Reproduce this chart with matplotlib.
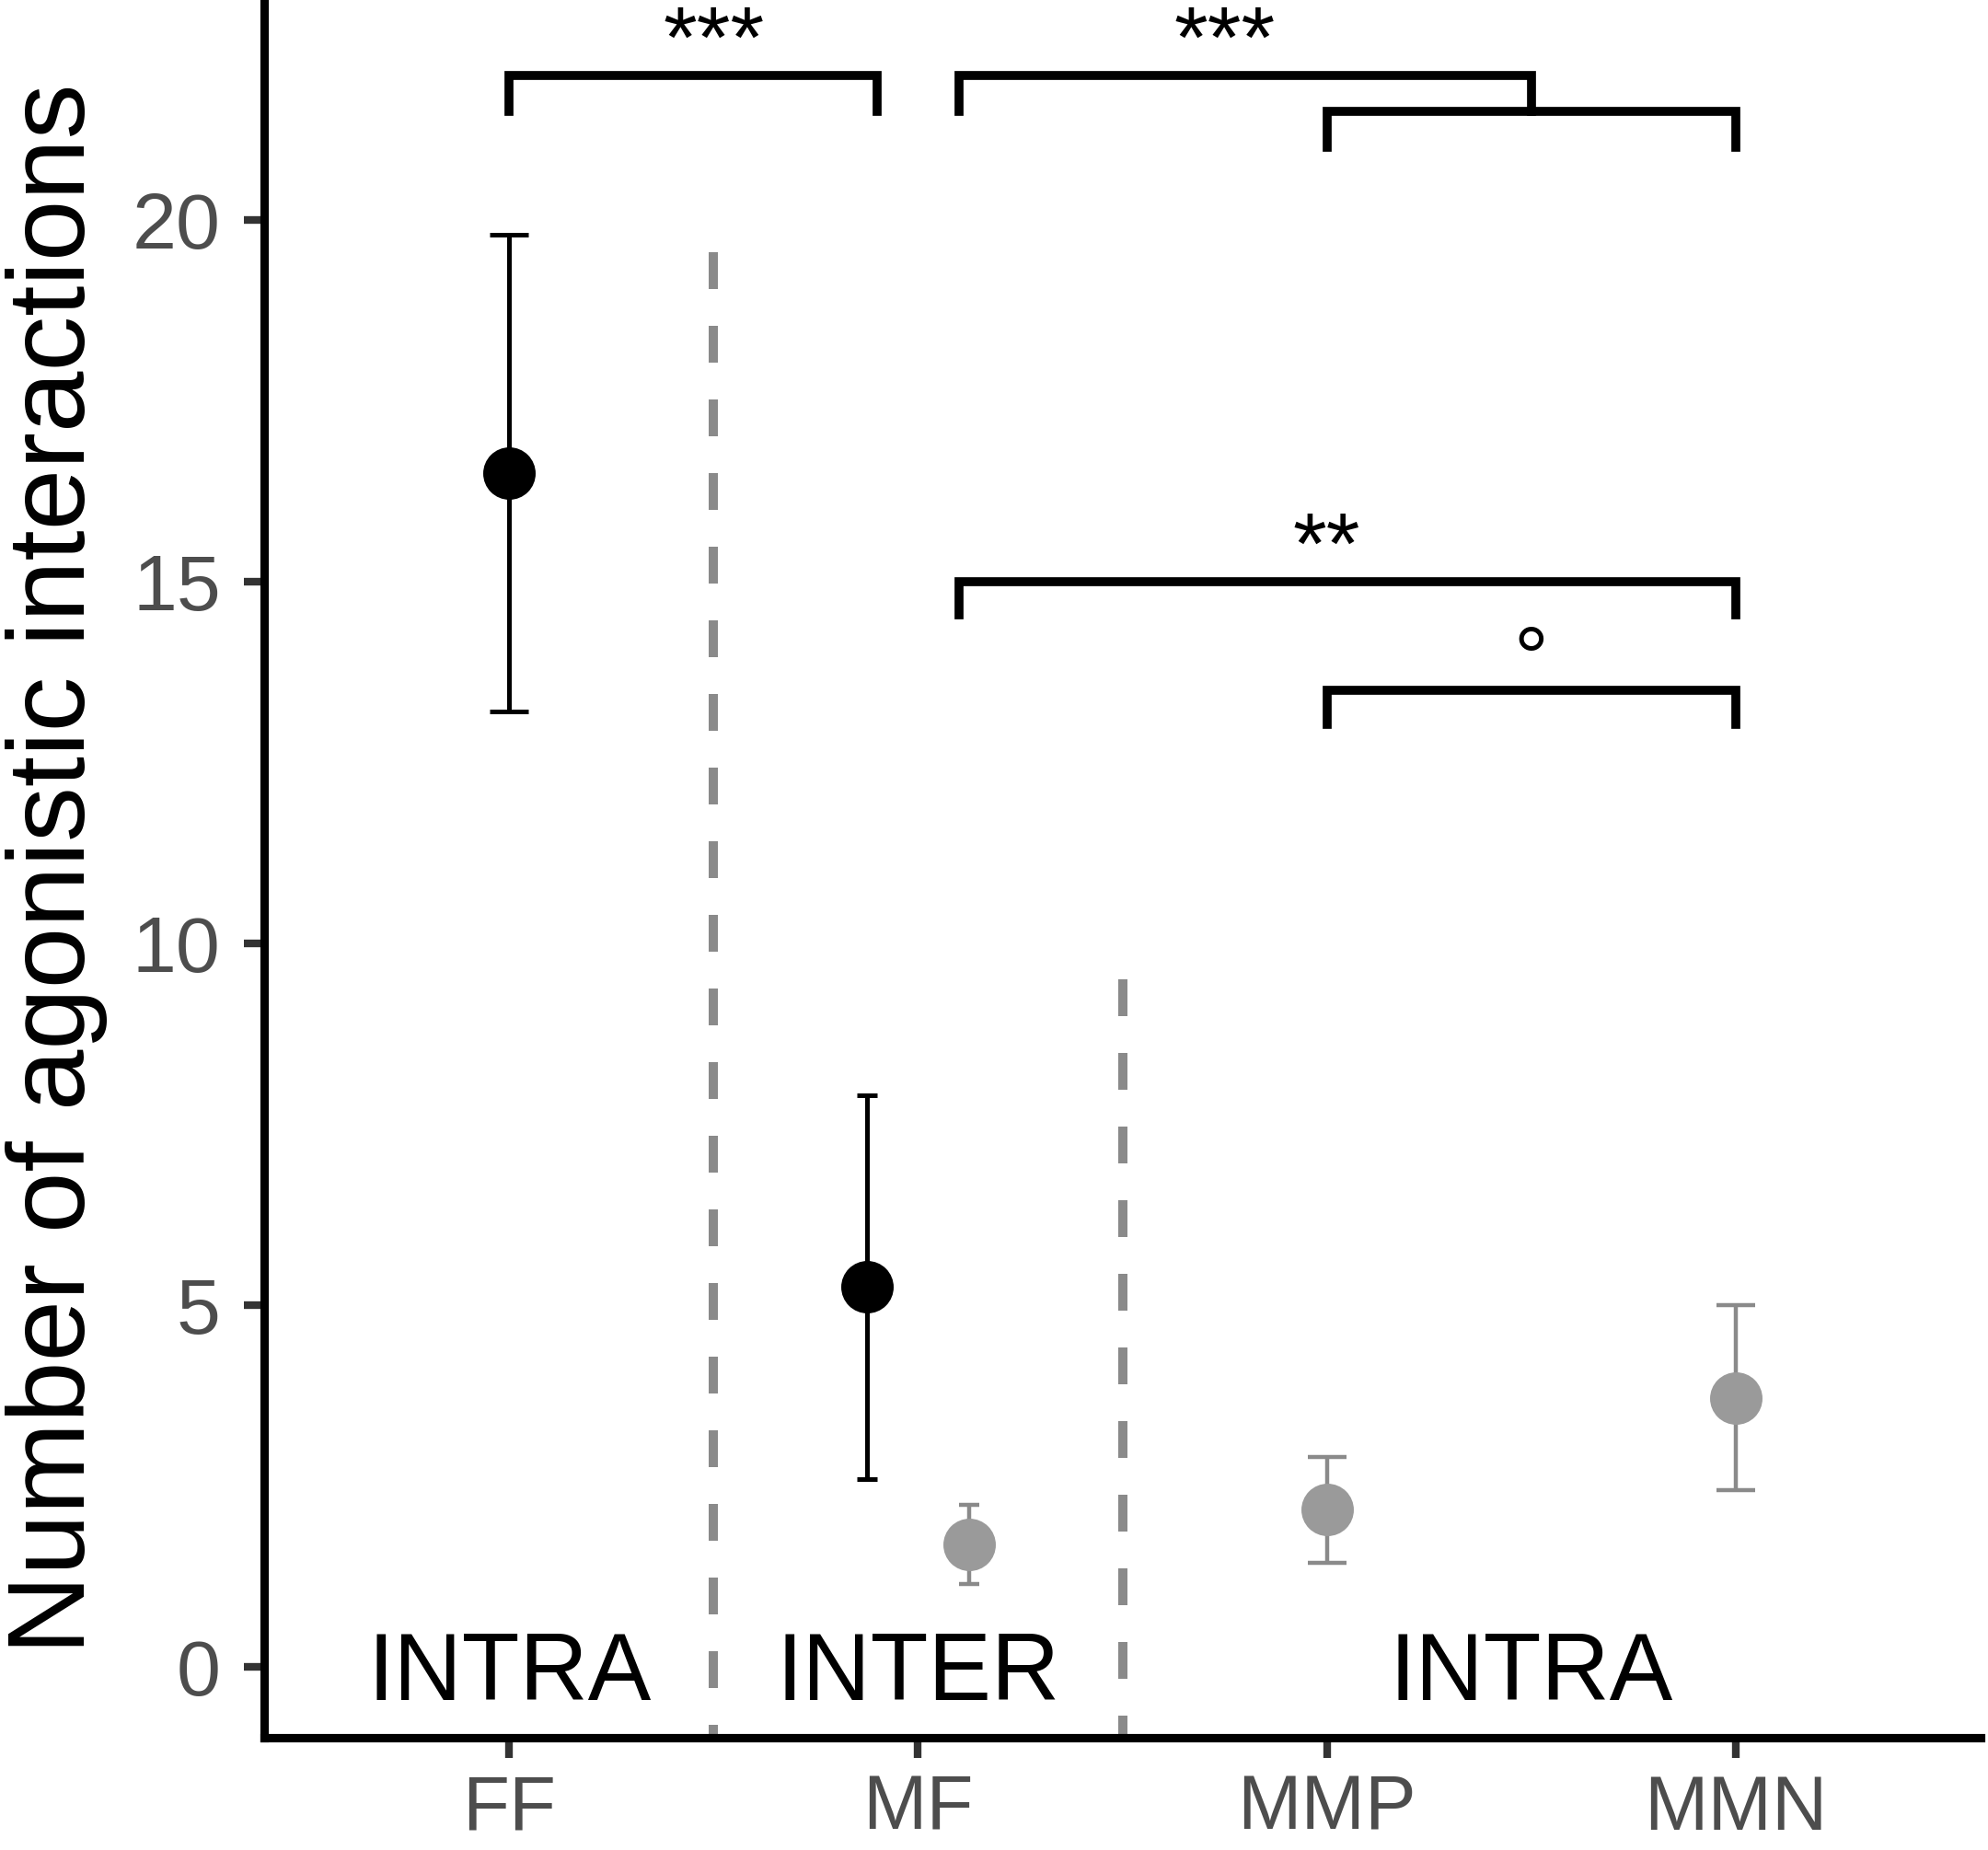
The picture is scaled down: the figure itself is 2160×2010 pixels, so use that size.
import matplotlib.pyplot as plt

plt.rcParams['font.family'] = ['Liberation Sans', 'DejaVu Sans']

groups = ["FF", "MF", "MMP", "MMN"]

# black points (FF, MF)
black_groups = ["FF", "MF"]
black_mean = [16.5, 5.25]
black_low = [13.2, 2.6]
black_high = [19.8, 7.9]

# grey points (MF, MMP, MMN)
grey_groups = ["MF", "MMP", "MMN"]
grey_mean = [1.69, 2.17, 3.72]
grey_low = [1.15, 1.44, 2.44]
grey_high = [2.24, 2.9, 5.0]

section_labels = ["INTRA", "INTER", "INTRA"]
section_x = [1, 2, 3.5]
divider_x = [1.5, 2.5]
divider_top = [19.55, 9.5]

# significance brackets
sig_left = [1.0, 2.1, 3.0, 2.1, 3.0]
sig_right = [1.9, 3.5, 4.0, 4.0, 4.0]
sig_top = [22.0, 22.0, 21.5, 15.0, 13.5]
sig_drop = [0.5, 0.5, 0.5, 0.46, 0.47]
sig_label = ["***", "***", "", "**", "°"]
sig_label_x = [1.5, 2.75, 3.5, 3.0, 3.5]

DODGE = 0.125


def xpos(g, side):
    i = groups.index(g) + 1
    if g in black_groups and g in grey_groups:
        return i + side * DODGE
    return i


fig = plt.figure(figsize=(10.8, 10.05), dpi=200)
ax = fig.add_axes([287 / 2160, 122 / 2010, 1865 / 2160, 1888 / 2010])

# --- dashed dividers ---
for x, top in zip(divider_x, divider_top):
    ax.plot([x, x], [top, -1], color="#8a8a8a", lw=3.6, dashes=(4, 4), zorder=1)

# --- points with error bars ---
for g, m, lo, hi in zip(black_groups, black_mean, black_low, black_high):
    dodged = g in grey_groups
    ax.errorbar(xpos(g, -1), m, yerr=[[m - lo], [hi - m]], fmt="o", ms=19.5,
                color="black", ecolor="black", elinewidth=1.8, capthick=1.8,
                capsize=3.9 if dodged else 7.7, zorder=3)

for g, m, lo, hi in zip(grey_groups, grey_mean, grey_low, grey_high):
    dodged = g in black_groups
    ax.errorbar(xpos(g, 1), m, yerr=[[m - lo], [hi - m]], fmt="o", ms=19.5,
                color="#9a9a9a", ecolor="#8a8a8a", elinewidth=1.6, capthick=1.6,
                capsize=3.9 if dodged else 7.7, zorder=3)

# --- section labels ---
for x, lab in zip(section_x, section_labels):
    ax.text(x, -0.46, lab, ha="center", va="baseline", fontsize=37, color="black")

# --- significance brackets ---
for l, r, t, d, lab, lx in zip(sig_left, sig_right, sig_top, sig_drop, sig_label, sig_label_x):
    ax.plot([l, l, r, r], [t - d, t, t, t - d], color="black", lw=3.5,
            solid_joinstyle="miter", zorder=2)
    if lab:
        off = 0.03 if lab == "°" else 0.12
        ax.text(lx, t + off, lab, ha="center", va="baseline", fontsize=34, color="black")

# --- axes styling ---
ax.set_xlim(0.4, 4.6)
ax.set_ylim(-0.98, 23.04)
ax.set_xticks(range(1, len(groups) + 1))
ax.set_xticklabels(groups)
ax.set_yticks([0, 5, 10, 15, 20])
for side in ["top", "right"]:
    ax.spines[side].set_visible(False)
for side in ["left", "bottom"]:
    ax.spines[side].set_linewidth(3.3)
    ax.spines[side].set_color("black")
ax.tick_params(axis="both", length=8, width=3, color="#333333", labelcolor="#4D4D4D")
ax.tick_params(axis="y", pad=9, labelsize=31)
ax.tick_params(axis="x", pad=6, labelsize=30)

ax.set_ylabel("Number of agonistic interactions", fontsize=43, color="black")
ax.yaxis.label.set_va("baseline")
ax.yaxis.set_label_coords(-(287 - 92) / 1865, 0.5)

fig.savefig("out.png", dpi=200)
